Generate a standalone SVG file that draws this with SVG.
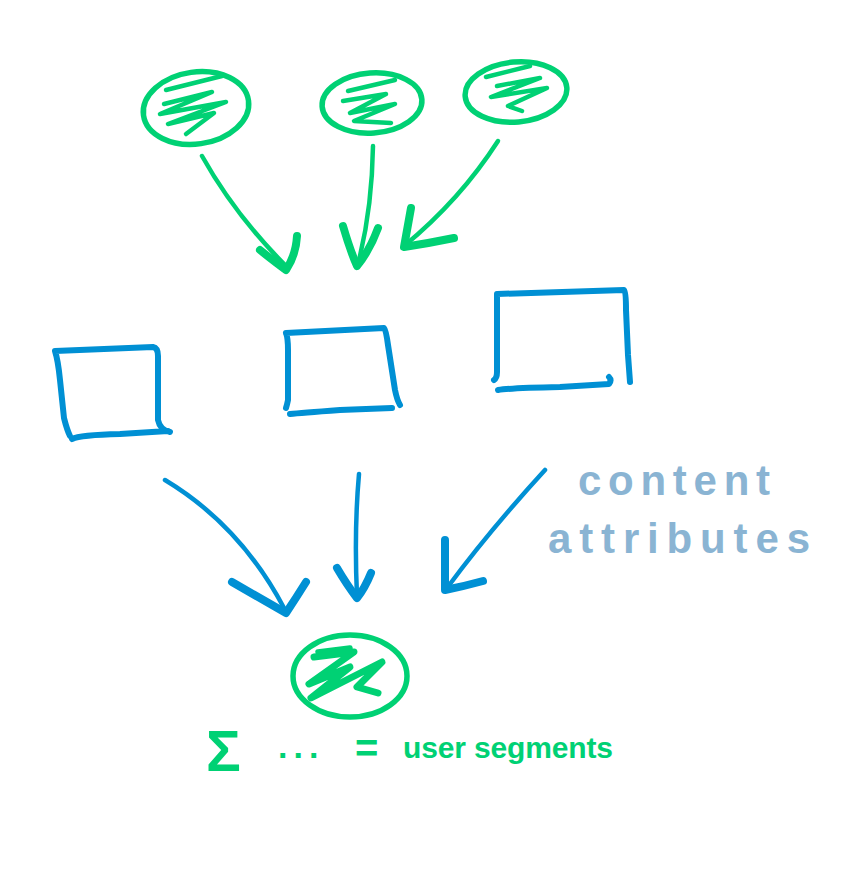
<svg xmlns="http://www.w3.org/2000/svg" width="847" height="874" viewBox="0 0 847 874">
<style>
.g{fill:none;stroke:#00d174;stroke-linecap:round;stroke-linejoin:round}
.b{fill:none;stroke:#0090d4;stroke-linecap:round;stroke-linejoin:round}
.ring{stroke-width:5.5}
.scr{stroke-width:4.5}
.box{stroke-width:6}
.shaft{stroke-width:4.5}
.barb{stroke-width:8}
.lbl{font-family:"Liberation Sans","DejaVu Sans",sans-serif;font-weight:bold}
</style>
<rect width="847" height="874" fill="#ffffff"/>
<g id="node-source-1">
<ellipse class="g ring" cx="196" cy="108" rx="53" ry="36" transform="rotate(-8 196 108)"/>
<path class="g scr" d="M166 90 L222 76 M164 104 L212 92 L160 114 L226 102 L168 124 L214 113 L186 134"/>
</g>
<g id="node-source-2">
<ellipse class="g ring" cx="372" cy="103" rx="50" ry="30" transform="rotate(-4 372 103)"/>
<path class="g scr" d="M348 91 L395 80 M343 101 L386 94 L350 113 L395 104 L354 121 L391 123"/>
</g>
<g id="node-source-3">
<ellipse class="g ring" cx="516" cy="92" rx="51" ry="30" transform="rotate(-5 516 92)"/>
<path class="g scr" d="M486 77 L530 66 M497 86 L540 78 L491 97 L547 88 L508 106 L522 111"/>
</g>
<g id="node-content-1">
<path class="b box" d="M55 351 L153 347 Q158 348 158 356 L158 420 Q160 430 170 432 M55 351 Q58 360 60 380 L64 418 Q67 430 70 436 M72 439 Q80 435 120 434 L168 431"/>
</g>
<g id="node-content-2">
<path class="b box" d="M286 333 L384 328 Q386 330 388 345 L395 390 Q397 400 400 405 M286 333 Q288 338 288 350 L288 400 Q287 405 286 408 M290 414 Q300 413 340 410 L392 408"/>
</g>
<g id="node-content-3">
<path class="b box" d="M497 294 L624 290 Q626 292 626 310 L628 355 L630 382 M497 294 L497 372 Q497 378 494 380 M498 390 Q510 388 560 387 L609 384 Q612 380 609 377"/>
</g>
<g id="node-sum">
<ellipse class="g ring" cx="350" cy="676" rx="57" ry="41"/>
<path class="g ring" d="M318 652 L350 648"/>
<path class="g" stroke-width="7" d="M314 657 L354 652 L309 684 L350 667 L311 698 L382 662 L357 687 L378 693"/>
</g>
<g id="connectors">
<path class="g shaft" d="M202 156 Q235 215 286 266"/>
<path class="g barb" d="M260 250 Q275 262 286 270 Q296 255 297 236"/>
<path class="g shaft" d="M373 146 Q372 210 358 264"/>
<path class="g barb" d="M343 226 Q350 250 357 266 Q370 250 378 228"/>
<path class="g shaft" d="M498 141 Q460 200 404 246"/>
<path class="g barb" d="M411 208 Q407 230 404 247 Q430 243 454 238"/>
<path class="b shaft" d="M165 480 Q240 525 284 608"/>
<path class="b barb" d="M232 582 Q260 598 286 613 Q296 598 306 582"/>
<path class="b shaft" d="M359 474 Q354 530 357 597"/>
<path class="b barb" d="M337 568 Q347 585 357 598 Q365 588 371 573"/>
<path class="b shaft" d="M545 470 Q490 530 447 588"/>
<path class="b barb" d="M445 540 L445 590 Q465 586 483 581"/>
</g>
<g id="label-content-attributes" class="lbl" fill="#8ab4d3" font-size="42">
<text x="578" y="495" textLength="192" lengthAdjust="spacing">content</text>
<text x="548" y="553" textLength="262" lengthAdjust="spacing">attributes</text>
</g>
<g id="label-sum" class="lbl" fill="#00d174">
<text x="206" y="771" font-size="58">Σ</text>
<text x="278" y="758" font-size="34" letter-spacing="6">...</text>
<text x="355" y="762" font-size="40">=</text>
<text x="403" y="758" font-size="30" textLength="210" lengthAdjust="spacing">user segments</text>
</g>
</svg>
